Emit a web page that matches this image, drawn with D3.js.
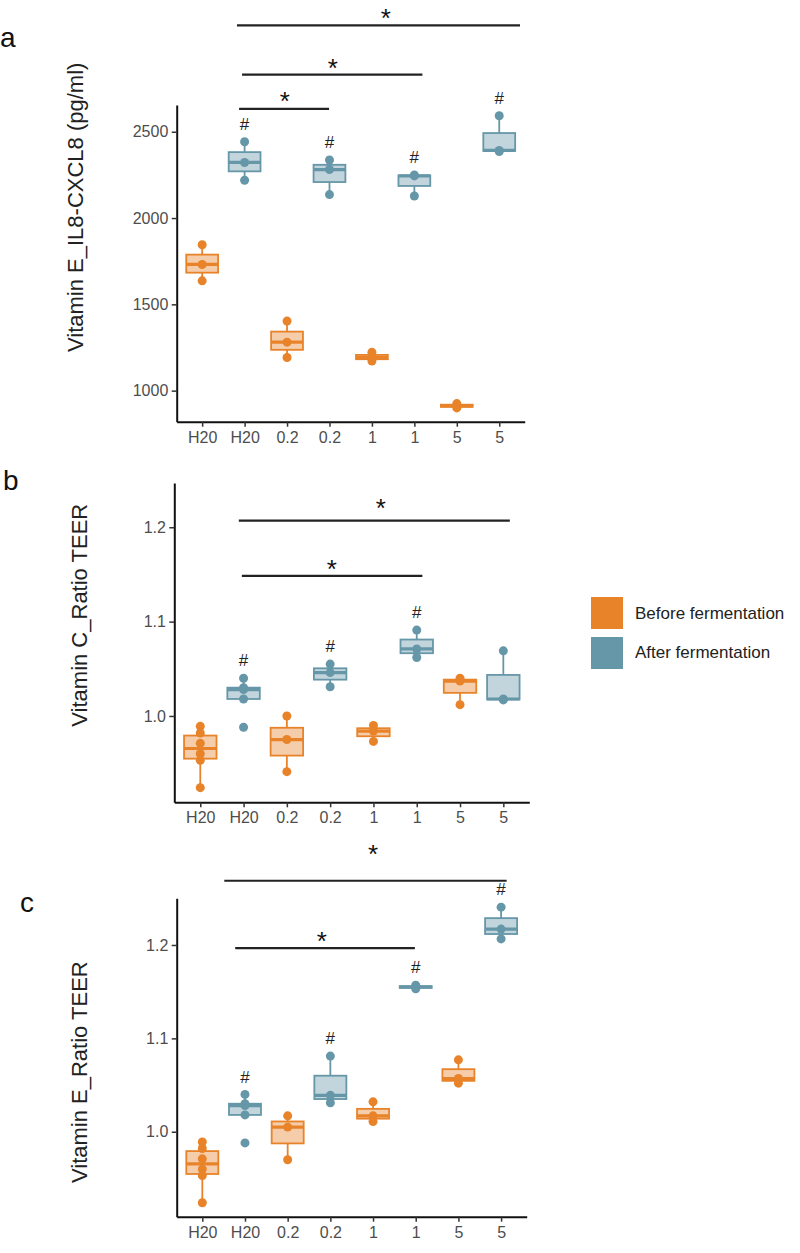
<!DOCTYPE html>
<html><head><meta charset="utf-8">
<script src="https://cdn.jsdelivr.net/npm/d3@7"></script>
<style>
body{margin:0;background:#fff;}
svg{display:block;font-family:"Liberation Sans",Arial,sans-serif;}
</style>
</head><body>
<svg id="chart" width="800" height="1253"></svg>
<script>
// ---------------- DATA ----------------
const categories = ["H20","H20","0.2","0.2","1","1","5","5"];
const groupOf = ["Before","After","Before","After","Before","After","Before","After"];
const legendLabels = ["Before fermentation","After fermentation"];

// Panel a: Vitamin E_IL8-CXCL8 (pg/ml)
const panelAValues = [
  [1845,1731,1636],
  [2442,2322,2219],
  [1403,1281,1192],
  [2336,2281,2136],
  [1222,1192,1172],
  [2250,2244,2128],
  [925,912,900],
  [2593,2392,2385]
];
const panelATicks = [1000,1500,2000,2500];
const panelAHash = [1,3,5,7];
const panelASig = [
  {from:0.82,to:7.49,y:3116,labelX:4.33,labelY:3195},
  {from:0.94,to:5.19,y:2831,labelX:3.08,labelY:2905},
  {from:0.87,to:2.99,y:2632,labelX:1.95,labelY:2714}
];

// Panel b: Vitamin C_Ratio TEER
const panelBValues = [
  [0.989,0.982,0.971,0.960,0.953,0.924],
  [1.040,1.030,1.028,1.018,0.988],
  [1.000,0.975,0.941],
  [1.055,1.046,1.031],
  [0.990,0.984,0.973],
  [1.091,1.071,1.062],
  [1.040,1.037,1.012],
  [1.069,1.018,1.017]
];
const panelBTicks = [1.0,1.1,1.2];
const panelBHash = [1,3,5];
const panelBSig = [
  {from:0.89,to:7.15,y:1.207,labelX:4.17,labelY:1.227},
  {from:0.96,to:5.13,y:1.1484,labelX:3.04,labelY:1.162}
];

// Panel c: Vitamin E_Ratio TEER
const panelCValues = [
  [0.989,0.982,0.971,0.960,0.953,0.924],
  [1.040,1.030,1.028,1.018,0.988],
  [1.017,1.005,0.970],
  [1.081,1.039,1.031],
  [1.032,1.017,1.011],
  [1.157,1.155,1.153],
  [1.077,1.057,1.052],
  [1.2405,1.217,1.2065]
];
const panelCTicks = [1.0,1.1,1.2];
const panelCHash = [1,3,5,7];
const panelCSig = [
  {from:0.515,to:7.13,y:1.2688,labelX:4.0,labelY:1.304},
  {from:0.77,to:4.98,y:1.1966,labelX:2.80,labelY:1.2107}
];

// ---------------- STYLE / LAYOUT ----------------
const colors = {Before:"#E8832A", After:"#6697A8"};
const svg = d3.select("#chart");

const panels = [
  {letter:"a", lx:0, ly:47, title:"Vitamin E_IL8-CXCL8 (pg/ml)", tx:83, ty:352,
   left:176.7, right:524.7, top:105, bottom:421.7, domain:[820,2655],
   values:panelAValues, ticks:panelATicks, fmt:d3.format("d"), hash:panelAHash, sig:panelASig},
  {letter:"b", lx:3, ly:490, title:"Vitamin C_Ratio TEER", tx:87, ty:726.7,
   left:174.3, right:529.3, top:483, bottom:802.3, domain:[0.9085,1.2469],
   values:panelBValues, ticks:panelBTicks, fmt:d3.format(".1f"), hash:panelBHash, sig:panelBSig},
  {letter:"c", lx:20, ly:912, title:"Vitamin E_Ratio TEER", tx:87, ty:1183,
   left:176.7, right:526.7, top:898.3, bottom:1216.7, domain:[0.909,1.250],
   values:panelCValues, ticks:panelCTicks, fmt:d3.format(".1f"), hash:panelCHash, sig:panelCSig}
];

function stats(vals){
  const s = vals.slice().sort(d3.ascending);
  const q1 = d3.quantile(s,0.25), med = d3.quantile(s,0.5), q3 = d3.quantile(s,0.75);
  const iqr = q3-q1;
  const inside = s.filter(v => v >= q1-1.5*iqr && v <= q3+1.5*iqr);
  return {q1, med, q3, lo:d3.min(inside), hi:d3.max(inside), max:d3.max(s)};
}

panels.forEach(p => {
  const g = svg.append("g");
  const x = d3.scalePoint().domain(d3.range(categories.length)).range([p.left,p.right]).padding(0.6);
  const xl = d3.scaleLinear().domain([-0.6, categories.length-1+0.6]).range([p.left,p.right]);
  const y = d3.scaleLinear().domain(p.domain).range([p.bottom,p.top]);
  const bw = x.step()*0.75;

  // panel letter
  g.append("text").attr("x",p.lx).attr("y",p.ly).attr("font-size",28).attr("fill","#111").text(p.letter);
  // y title
  g.append("text").attr("transform",`translate(${p.tx},${p.ty}) rotate(-90)`)
    .attr("font-size",22).attr("fill","#222").attr("text-anchor","start").text(p.title);

  // axes
  const xa = g.append("g").attr("transform",`translate(0,${p.bottom})`)
    .call(d3.axisBottom(x).tickFormat(i => categories[i]).tickSize(5).tickSizeOuter(0).tickPadding(4.5));
  const ya = g.append("g").attr("transform",`translate(${p.left},0)`)
    .call(d3.axisLeft(y).tickValues(p.ticks).tickFormat(p.fmt).tickSize(5).tickSizeOuter(0).tickPadding(3.4));
  [xa,ya].forEach(a => {
    a.select(".domain").attr("stroke","#111").attr("stroke-width",2);
    a.selectAll(".tick line").attr("stroke","#333").attr("stroke-width",1.5);
    a.selectAll(".tick text").attr("font-size",16).attr("fill","#4D4D4D")
      .attr("font-family","'Liberation Sans',Arial,sans-serif");
  });

  // boxes
  p.values.forEach((vals,i) => {
    const st = stats(vals);
    const col = colors[groupOf[i]];
    const cx = x(i);
    const bg = g.append("g");
    bg.append("line").attr("x1",cx).attr("x2",cx).attr("y1",y(st.hi)).attr("y2",y(st.q3))
      .attr("stroke",col).attr("stroke-width",1.8);
    bg.append("line").attr("x1",cx).attr("x2",cx).attr("y1",y(st.q1)).attr("y2",y(st.lo))
      .attr("stroke",col).attr("stroke-width",1.8);
    bg.append("rect").attr("x",cx-bw/2).attr("width",bw)
      .attr("y",y(st.q3)).attr("height",Math.max(0.5,y(st.q1)-y(st.q3)))
      .attr("fill",col).attr("fill-opacity",0.4).attr("stroke",col).attr("stroke-width",1.8);
    bg.append("line").attr("x1",cx-bw/2).attr("x2",cx+bw/2).attr("y1",y(st.med)).attr("y2",y(st.med))
      .attr("stroke",col).attr("stroke-width",3.2);
    bg.selectAll("circle").data(vals).join("circle")
      .attr("cx",cx).attr("cy",d => y(d)).attr("r",4.5).attr("fill",col);
    if (p.hash.includes(i)) {
      g.append("text").attr("x",cx).attr("y",y(st.max)-18).attr("dy","0.36em")
        .attr("text-anchor","middle").attr("font-size",17).attr("fill","#222").text("#");
    }
  });

  // significance bars
  p.sig.forEach(s => {
    g.append("line").attr("x1",xl(s.from)).attr("x2",xl(s.to)).attr("y1",y(s.y)).attr("y2",y(s.y))
      .attr("stroke","#222").attr("stroke-width",2.2);
    g.append("text").attr("x",xl(s.labelX)).attr("y",y(s.labelY)+15)
      .attr("text-anchor","middle").attr("font-size",26).attr("fill","#111").text("*");
  });
});

// legend
const legend = svg.append("g");
legendLabels.forEach((lab,i) => {
  const col = colors[i===0 ? "Before" : "After"];
  legend.append("rect").attr("x",591).attr("y",597+i*40).attr("width",32).attr("height",32).attr("fill",col);
  legend.append("text").attr("x",635).attr("y",619+i*39).attr("font-size",17).attr("fill","#222").text(lab);
});
</script>
</body></html>
